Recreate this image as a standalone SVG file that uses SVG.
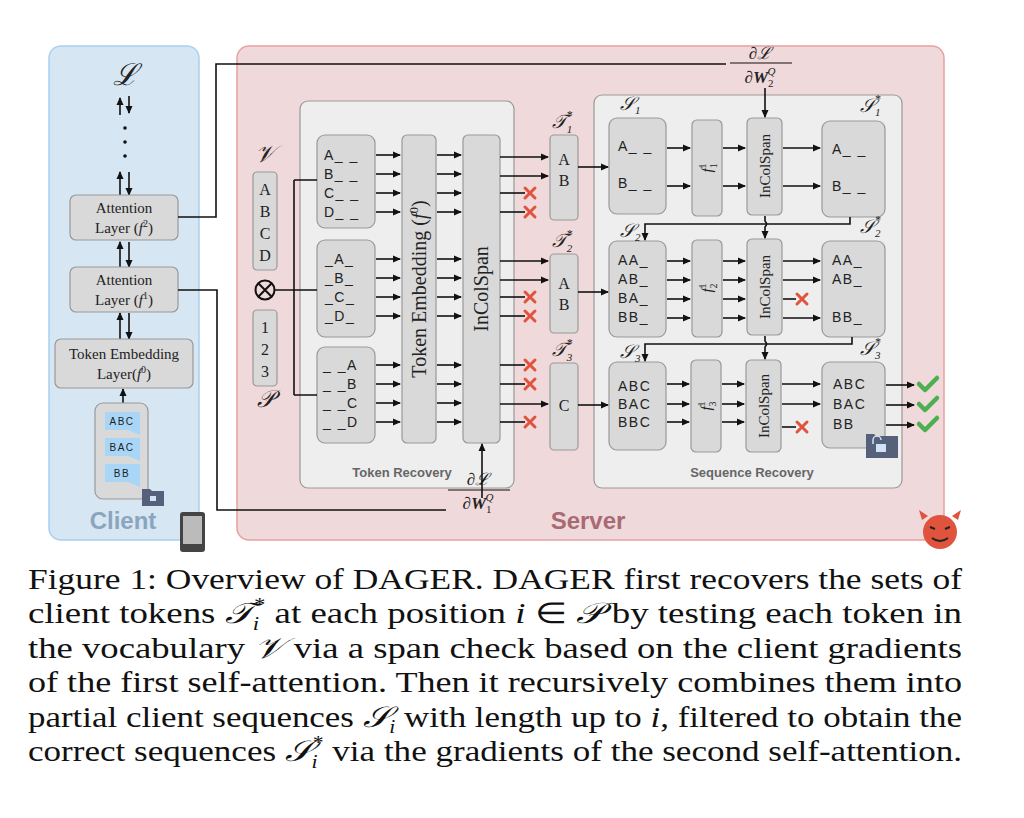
<svg xmlns="http://www.w3.org/2000/svg" width="1024" height="818" viewBox="0 0 1024 818">
<defs>
<marker id="ar" markerWidth="8" markerHeight="8" refX="7" refY="4" orient="auto" markerUnits="userSpaceOnUse"><path d="M0,0.5 L8,4 L0,7.5 Z" fill="#111"/></marker>
<g id="x"><path d="M-5,-5 L5,5 M5,-5 L-5,5" stroke="#e0533d" stroke-width="3" stroke-linecap="round"/></g>
<g id="ck"><path d="M-9,0 L-3,6 L9,-6" stroke="#4caf50" stroke-width="4.5" fill="none" stroke-linecap="round" stroke-linejoin="round"/></g>
</defs>
<style>
.box{fill:#d9d9d9;stroke:#999;stroke-width:1.2}
.pan{fill:#eeeeee;stroke:#999;stroke-width:1.2}
.ln{stroke:#111;stroke-width:1.6;fill:none}
.a{stroke:#111;stroke-width:1.6;fill:none;marker-end:url(#ar)}
.sf{font-family:"Liberation Serif",serif;fill:#222}
.ss{font-family:"Liberation Sans",Arial,sans-serif;fill:#222;letter-spacing:1.5px}
.it{font-style:italic}
.cap{font-family:"Liberation Serif",serif;font-size:29px;fill:#111}
</style>
<rect width="1024" height="818" fill="#fff"/>
<rect x="49" y="46" width="150" height="494" rx="12" fill="#d6e6f3" stroke="#a8d0f0" stroke-width="1.5"/>
<rect x="237" y="46" width="707" height="494" rx="12" fill="#f0d9da" stroke="#e8a0a0" stroke-width="1.5"/>

<g id="client">
<text x="125" y="85" class="sf it" font-size="30" text-anchor="middle">ℒ</text>
<g class="a"><path d="M120,115 V98"/><path d="M129,96 V113"/><path d="M120,195 V172"/><path d="M129,172 V195"/><path d="M120,267 V242"/><path d="M129,242 V267"/><path d="M120,339 V313"/><path d="M129,313 V339"/><path d="M123,403 V389"/></g>
<circle cx="125" cy="128" r="1.8" fill="#111"/><circle cx="125" cy="142" r="1.8" fill="#111"/><circle cx="125" cy="156" r="1.8" fill="#111"/>
<rect x="70" y="195" width="108" height="45" rx="6" class="box"/>
<text x="124" y="213" class="sf" font-size="15" text-anchor="middle">Attention</text>
<text x="124" y="233" class="sf" font-size="15" text-anchor="middle">Layer (<tspan class="it">f</tspan><tspan font-size="10" dy="-6">2</tspan><tspan dy="6">)</tspan></text>
<rect x="70" y="267" width="108" height="45" rx="6" class="box"/>
<text x="124" y="285" class="sf" font-size="15" text-anchor="middle">Attention</text>
<text x="124" y="305" class="sf" font-size="15" text-anchor="middle">Layer (<tspan class="it">f</tspan><tspan font-size="10" dy="-6">1</tspan><tspan dy="6">)</tspan></text>
<rect x="55" y="339" width="138" height="49" rx="6" class="box"/>
<text x="124" y="359" class="sf" font-size="15" text-anchor="middle">Token Embedding</text>
<text x="124" y="379" class="sf" font-size="15" text-anchor="middle">Layer(<tspan class="it">f</tspan><tspan font-size="10" dy="-6">0</tspan><tspan dy="6">)</tspan></text>
<rect x="95" y="403" width="53" height="96" rx="8" class="box"/>
<g fill="#a9d6f7"><path d="M105,412 h35 v18 h-35 z M128,430 l12,0 l0,5 z"/><path d="M105,438 h35 v18 h-35 z M128,456 l12,0 l0,5 z"/><path d="M105,464 h35 v18 h-35 z M128,482 l12,0 l0,5 z"/></g>
<g class="ss" font-size="10" text-anchor="middle"><text x="122" y="425">ABC</text><text x="122" y="451">BAC</text><text x="122" y="477">BB</text></g>
<path d="M142,489 h8 l2,2 h12 v15 h-22 z" fill="#56607a"/><rect x="150" y="496" width="6" height="5" fill="#cfe3f5"/>
<text x="123" y="529" font-family="Liberation Sans,Arial,sans-serif" font-weight="bold" font-size="24" fill="#8aa5bd" text-anchor="middle">Client</text>
<rect x="180" y="512" width="25" height="40" rx="3" fill="#444"/><rect x="183" y="516" width="19" height="28" fill="#bbb"/>
</g>

<g id="server">
<text x="588" y="529" font-family="Liberation Sans,Arial,sans-serif" font-weight="bold" font-size="24" fill="#a86a75" text-anchor="middle">Server</text>
<g id="devil"><path d="M922,520 l-3,-10 l9,6 z M958,520 l3,-10 l-9,6 z" fill="#e0533d"/><circle cx="940" cy="532" r="17" fill="#e0533d"/><path d="M932,538 q8,6 16,0" stroke="#222" stroke-width="2" fill="none"/><path d="M930,527 l5,2 M950,527 l-5,2" stroke="#222" stroke-width="2"/></g>
<text x="265" y="162" class="sf it" font-size="24" text-anchor="middle">𝒱</text>
<rect x="253" y="172" width="24" height="98" rx="4" class="box"/>
<rect x="253" y="310" width="24" height="76" rx="4" class="box"/>
<g class="sf" font-size="16" text-anchor="middle"><text x="265" y="195">A</text><text x="265" y="217">B</text><text x="265" y="239">C</text><text x="265" y="261">D</text><text x="265" y="333">1</text><text x="265" y="355">2</text><text x="265" y="377">3</text></g>
<circle cx="265" cy="290" r="9.5" fill="none" stroke="#111" stroke-width="2"/><path d="M258.3,283.3 L271.7,296.7 M271.7,283.3 L258.3,296.7" stroke="#111" stroke-width="2"/>
<text x="265" y="407" class="sf it" font-size="24" text-anchor="middle">𝒫</text>
</g>

<g id="token-recovery">
<rect x="300" y="101" width="214" height="387" rx="8" class="pan"/>
<text x="402" y="477" font-family="Liberation Sans,Arial,sans-serif" font-weight="bold" font-size="13" fill="#666" text-anchor="middle">Token Recovery</text>
<rect x="317" y="135" width="58" height="93" rx="8" class="box"/>
<rect x="317" y="240" width="58" height="97" rx="8" class="box"/>
<rect x="317" y="347" width="58" height="96" rx="8" class="box"/>
<g class="ss" font-size="14">
<text x="324" y="160">A_ _</text><text x="324" y="179">B_ _</text><text x="324" y="198">C_ _</text><text x="324" y="217">D_ _</text>
<text x="325" y="264">_A_</text><text x="325" y="283">_B_</text><text x="325" y="302">_C_</text><text x="325" y="321">_D_</text>
<text x="323" y="370">_ _A</text><text x="323" y="389">_ _B</text><text x="323" y="408">_ _C</text><text x="323" y="427">_ _D</text>
</g>
<rect x="402" y="135" width="34" height="308" rx="5" class="box"/>
<text transform="translate(426,289) rotate(-90)" class="sf" font-size="20" text-anchor="middle">Token Embedding (<tspan class="it">f</tspan><tspan font-size="13" dy="-8">0</tspan><tspan dy="8">)</tspan></text>
<rect x="463" y="135" width="37" height="308" rx="5" class="box"/>
<text transform="translate(488,289) rotate(-90)" class="sf" font-size="20" text-anchor="middle">InColSpan</text>
<rect x="550" y="135" width="28" height="85" rx="4" class="box"/>
<rect x="550" y="254" width="28" height="79" rx="4" class="box"/>
<rect x="550" y="363" width="28" height="87" rx="4" class="box"/>
<g class="sf" font-size="16" text-anchor="middle"><text x="564" y="165">A</text><text x="564" y="186">B</text><text x="564" y="289">A</text><text x="564" y="310">B</text><text x="564" y="411">C</text></g>
<g class="sf it" font-size="19" text-anchor="middle">
<text x="562" y="128">𝒯<tspan font-size="11" dy="5">1</tspan><tspan font-size="12" dx="-6" dy="-14">*</tspan></text>
<text x="562" y="247">𝒯<tspan font-size="11" dy="5">2</tspan><tspan font-size="12" dx="-6" dy="-14">*</tspan></text>
<text x="562" y="356">𝒯<tspan font-size="11" dy="5">3</tspan><tspan font-size="12" dx="-6" dy="-14">*</tspan></text>
</g>
</g>

<g id="sequence-recovery">
<rect x="594" y="95" width="308" height="393" rx="8" class="pan"/>
<text x="752" y="477" font-family="Liberation Sans,Arial,sans-serif" font-weight="bold" font-size="13" fill="#666" text-anchor="middle">Sequence Recovery</text>
<rect x="609" y="118" width="57" height="96" rx="8" class="box"/>
<rect x="609" y="241" width="57" height="96" rx="8" class="box"/>
<rect x="609" y="362" width="57" height="88" rx="8" class="box"/>
<rect x="692" y="120" width="30" height="96" rx="5" class="box"/>
<rect x="692" y="240" width="30" height="97" rx="5" class="box"/>
<rect x="691" y="360" width="30" height="92" rx="5" class="box"/>
<rect x="747" y="118" width="35" height="97" rx="5" class="box"/>
<rect x="747" y="239" width="35" height="96" rx="5" class="box"/>
<rect x="746" y="360" width="35" height="92" rx="5" class="box"/>
<rect x="822" y="121" width="63" height="96" rx="8" class="box"/>
<rect x="822" y="241" width="63" height="96" rx="8" class="box"/>
<rect x="822" y="362" width="63" height="86" rx="8" class="box"/>
<g class="ss" font-size="14">
<text x="618" y="151">A_ _</text><text x="618" y="188">B_ _</text>
<text x="618" y="265">AA_</text><text x="618" y="284">AB_</text><text x="618" y="303">BA_</text><text x="618" y="322">BB_</text>
<text x="618" y="391">ABC</text><text x="618" y="409">BAC</text><text x="618" y="427">BBC</text>
<text x="832" y="154">A_ _</text><text x="832" y="191">B_ _</text>
<text x="832" y="265">AA_</text><text x="832" y="284">AB_</text><text x="832" y="322">BB_</text>
<text x="833" y="389">ABC</text><text x="833" y="409">BAC</text><text x="833" y="429">BB</text>
</g>
<g class="sf" font-size="15" text-anchor="middle">
<text transform="translate(712,168) rotate(-90)"><tspan class="it">f</tspan><tspan font-size="10" dy="5">1</tspan><tspan font-size="10" dx="-5" dy="-11">1</tspan></text>
<text transform="translate(712,288) rotate(-90)"><tspan class="it">f</tspan><tspan font-size="10" dy="5">2</tspan><tspan font-size="10" dx="-5" dy="-11">1</tspan></text>
<text transform="translate(711,406) rotate(-90)"><tspan class="it">f</tspan><tspan font-size="10" dy="5">3</tspan><tspan font-size="10" dx="-5" dy="-11">1</tspan></text>
<text transform="translate(770,166) rotate(-90)">InColSpan</text>
<text transform="translate(770,287) rotate(-90)">InColSpan</text>
<text transform="translate(769,406) rotate(-90)">InColSpan</text>
</g>
<g class="sf it" font-size="19">
<text x="620" y="110">𝒮<tspan font-size="11" dy="4">1</tspan></text>
<text x="860" y="112">𝒮<tspan font-size="11" dy="4">1</tspan><tspan font-size="12" dx="-6" dy="-13">*</tspan></text>
<text x="620" y="237">𝒮<tspan font-size="11" dy="4">2</tspan></text>
<text x="860" y="233">𝒮<tspan font-size="11" dy="4">2</tspan><tspan font-size="12" dx="-6" dy="-13">*</tspan></text>
<text x="620" y="358">𝒮<tspan font-size="11" dy="4">3</tspan></text>
<text x="860" y="355">𝒮<tspan font-size="11" dy="4">3</tspan><tspan font-size="12" dx="-6" dy="-13">*</tspan></text>
</g>
<path d="M866,434 h8 l2,2 h22 v22 h-32 z" fill="#56607a"/><rect x="876" y="444" width="10" height="8" fill="#cfe3f5"/><path d="M873,444 v-4 a4,4 0 0 1 8,0" stroke="#cfe3f5" stroke-width="1.5" fill="none"/>
</g>

<g id="gradients" class="sf">
<text x="760" y="59" font-size="17" text-anchor="middle" class="it">∂ℒ</text>
<path d="M730,63 H792" stroke="#111" stroke-width="1"/>
<text x="760" y="83" font-size="17" text-anchor="middle"><tspan class="it">∂</tspan><tspan font-weight="bold" class="it">W</tspan><tspan font-size="11" dy="4">2</tspan><tspan font-size="11" dx="-6" dy="-12" class="it">Q</tspan></text>
<text x="478" y="485" font-size="17" text-anchor="middle" class="it">∂ℒ</text>
<path d="M448,490 H510" stroke="#111" stroke-width="1"/>
<text x="478" y="509" font-size="17" text-anchor="middle"><tspan class="it">∂</tspan><tspan font-weight="bold" class="it">W</tspan><tspan font-size="11" dy="4">1</tspan><tspan font-size="11" dx="-6" dy="-12" class="it">Q</tspan></text>
</g>

<g id="connectors">
<path class="ln" d="M178,217 H216 V64 H726"/>
<path class="a" d="M765,88 V117"/>
<path class="ln" d="M178,290 H217 V510 H446"/>
<path class="a" d="M482,498 V444"/>
<path class="ln" d="M275,290 H317 M294,180 V395 M294,180 H317 M294,395 H317"/>
<g class="a">
<path d="M376,155 H400"/><path d="M376,174 H400"/><path d="M376,193 H400"/><path d="M376,212 H400"/>
<path d="M376,259 H400"/><path d="M376,278 H400"/><path d="M376,297 H400"/><path d="M376,316 H400"/>
<path d="M376,365 H400"/><path d="M376,384 H400"/><path d="M376,403 H400"/><path d="M376,422 H400"/>
<path d="M437,155 H461"/><path d="M437,174 H461"/><path d="M437,193 H461"/><path d="M437,212 H461"/>
<path d="M437,259 H461"/><path d="M437,278 H461"/><path d="M437,297 H461"/><path d="M437,316 H461"/>
<path d="M437,365 H461"/><path d="M437,384 H461"/><path d="M437,403 H461"/><path d="M437,422 H461"/>
<path d="M500,157 H548"/><path d="M500,176 H548"/><path d="M500,261 H548"/><path d="M500,280 H548"/><path d="M500,404 H548"/>
<path d="M578,167 H608"/><path d="M578,292 H608"/><path d="M578,405 H608"/>
<path d="M667,148 H690"/><path d="M667,186 H690"/><path d="M723,148 H745"/><path d="M723,186 H745"/><path d="M783,148 H820"/><path d="M783,186 H820"/>
<path d="M667,261 H690"/><path d="M667,280 H690"/><path d="M667,299 H690"/><path d="M667,318 H690"/>
<path d="M723,261 H745"/><path d="M723,280 H745"/><path d="M723,299 H745"/><path d="M723,318 H745"/>
<path d="M783,261 H820"/><path d="M783,280 H820"/><path d="M783,318 H820"/>
<path d="M667,384 H689"/><path d="M667,404 H689"/><path d="M667,422 H689"/>
<path d="M722,384 H744"/><path d="M722,404 H744"/><path d="M722,422 H744"/>
<path d="M782,384 H820"/><path d="M782,404 H820"/>
<path d="M886,385 H914"/><path d="M886,405 H914"/><path d="M886,425 H914"/>
<path d="M850,217 V224 H645 V240"/><path d="M852,337 V344 H645 V361"/>
<path d="M765,216 V221 q3,3 0,6 V238"/><path d="M765,336 V341 q3,3 0,6 V359"/>
</g>
<g class="ln"><path d="M500,193 H525"/><path d="M500,212 H525"/><path d="M500,297 H525"/><path d="M500,316 H525"/><path d="M500,365 H525"/><path d="M500,384 H525"/><path d="M500,422 H525"/><path d="M783,299 H796"/><path d="M782,427 H796"/></g>
<use href="#x" x="530" y="193"/><use href="#x" x="530" y="212"/><use href="#x" x="530" y="297"/><use href="#x" x="530" y="316"/><use href="#x" x="530" y="365"/><use href="#x" x="530" y="384"/><use href="#x" x="530" y="422"/><use href="#x" x="802" y="299"/><use href="#x" x="802" y="427"/>
<use href="#ck" x="928" y="384"/><use href="#ck" x="928" y="404"/><use href="#ck" x="928" y="424"/>
</g>

<g id="caption" class="cap">
<text x="28" y="589" textLength="934" lengthAdjust="spacingAndGlyphs">Figure 1: Overview of DAGER. DAGER first recovers the sets of</text>
<text x="28" y="623" textLength="934" lengthAdjust="spacingAndGlyphs">client tokens <tspan class="it">𝒯</tspan><tspan font-size="18" dy="7" class="it">i</tspan><tspan font-size="18" dx="-4" dy="-19">*</tspan><tspan dy="12"> at each position </tspan><tspan class="it">i</tspan> ∈ <tspan class="it">𝒫</tspan> by testing each token in</text>
<text x="28" y="658" textLength="934" lengthAdjust="spacingAndGlyphs">the vocabulary <tspan class="it">𝒱</tspan> via a span check based on the client gradients</text>
<text x="28" y="692" textLength="934" lengthAdjust="spacingAndGlyphs">of the first self-attention. Then it recursively combines them into</text>
<text x="28" y="727" textLength="934" lengthAdjust="spacingAndGlyphs">partial client sequences <tspan class="it">𝒮</tspan><tspan font-size="18" dy="6" class="it">i</tspan><tspan dy="-6"> with length up to </tspan><tspan class="it">i</tspan>, filtered to obtain the</text>
<text x="28" y="761" textLength="934" lengthAdjust="spacingAndGlyphs">correct sequences <tspan class="it">𝒮</tspan><tspan font-size="18" dy="7" class="it">i</tspan><tspan font-size="18" dx="-4" dy="-19">*</tspan><tspan dy="12"> via the gradients of the second self-attention.</tspan></text>
</g>
</svg>
